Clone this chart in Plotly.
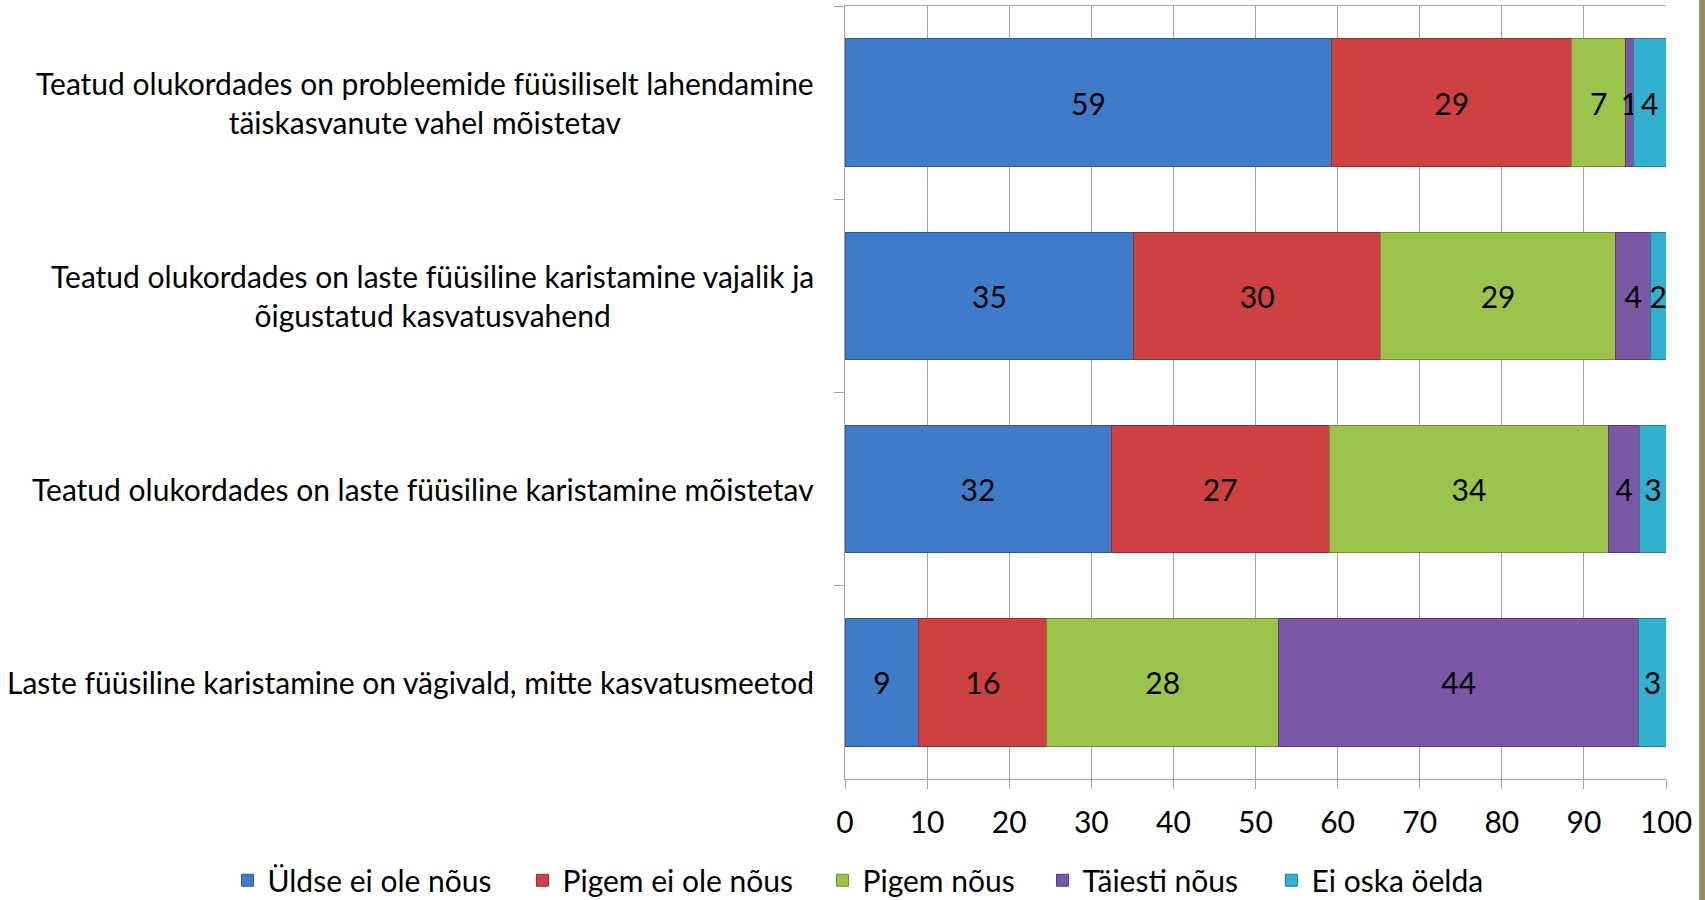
import plotly.graph_objects as go

categories = [
    "Teatud olukordades on probleemide füüsiliselt lahendamine<br>täiskasvanute vahel mõistetav",
    "Teatud olukordades on laste füüsiline karistamine vajalik ja<br>õigustatud kasvatusvahend",
    "Teatud olukordades on laste füüsiline karistamine mõistetav",
    "Laste füüsiline karistamine on vägivald, mitte kasvatusmeetod",
]
series_names = ["Üldse ei ole nõus", "Pigem ei ole nõus", "Pigem nõus", "Täiesti nõus", "Ei oska öelda"]
uldse = [59.3, 35.2, 32.4, 9.0]
pigem_ei = [29.2, 30.0, 26.6, 15.6]
pigem = [6.6, 28.7, 34.0, 28.2]
taiesti = [0.9, 4.2, 3.8, 43.9]
ei_oska = [4.0, 1.9, 3.2, 3.3]
x_ticks = [0, 10, 20, 30, 40, 50, 60, 70, 80, 90, 100]

series_values = [uldse, pigem_ei, pigem, taiesti, ei_oska]
colors = ["#3f7cc8", "#cf4140", "#9cc44a", "#7a58a6", "#33afcf"]
lines = ["#2c5a94", "#943030", "#6f8f32", "#563d78", "#237f96"]
legend_x = [-0.7521, -0.3928, -0.0274, 0.2406, 0.5195]

FONT = "Lato"
FS = 30
fig = go.Figure()
legend_ids = ["legend", "legend2", "legend3", "legend4", "legend5"]
for name, vals, c, lc, lid in zip(series_names, series_values, colors, lines, legend_ids):
    fig.add_trace(go.Bar(
        y=categories, x=vals, name=name, orientation="h", legend=lid,
        marker=dict(color=c, line=dict(color=lc, width=1)),
        text=[f"{round(v)}" for v in vals],
        textposition="inside", insidetextanchor="middle", textangle=0,
        constraintext="none",
        textfont=dict(family=FONT, size=FS, color="black"),
    ))

for cat in categories:
    fig.add_annotation(
        x=0, xref="paper", y=cat, yref="y", xanchor="right", xshift=-29,
        text=cat, showarrow=False, align="center",
        font=dict(family=FONT, size=FS, color="black"),
    )

fig.add_shape(type="rect", xref="paper", yref="paper", x0=1.0403, x1=1.2, y0=-0.3, y1=1.2,
              fillcolor="#9a8c5c", line=dict(width=0), layer="above")

legend_style = dict(orientation="h", xref="paper", yref="paper", xanchor="left",
                    y=-0.131, yanchor="middle", font=dict(family=FONT, size=FS, color="black"),
                    itemwidth=30, bgcolor="rgba(0,0,0,0)")
layout_legends = {lid: dict(x=lx, **legend_style) for lid, lx in zip(legend_ids, legend_x)}

fig.update_layout(
    barmode="stack", bargap=0.34,
    width=1705, height=900,
    margin=dict(l=845, r=39, t=6, b=121, autoexpand=False),
    plot_bgcolor="white", paper_bgcolor="white",
    font=dict(family=FONT, size=FS, color="black"),
    showlegend=True,
    **layout_legends,
)
fig.update_xaxes(
    range=[0, 100], tickvals=x_ticks, ticktext=[str(t) for t in x_ticks],
    showgrid=True, gridcolor="#a6a6a6", gridwidth=1,
    showline=True, linecolor="#a6a6a6", linewidth=1, mirror=True,
    ticks="outside", ticklen=9, tickcolor="#a6a6a6", ticklabelstandoff=8,
    tickfont=dict(family=FONT, size=FS, color="black"), zeroline=False,
)
fig.update_yaxes(
    autorange="reversed", showticklabels=False, tickson="boundaries",
    ticks="outside", ticklen=10, tickcolor="#a6a6a6",
    showline=True, linecolor="#a6a6a6", linewidth=1, showgrid=False,
)
fig.write_html("out.html", config={"displayModeBar": False},
               post_script="document.body.style.margin='0px';document.body.style.overflow='hidden';")
